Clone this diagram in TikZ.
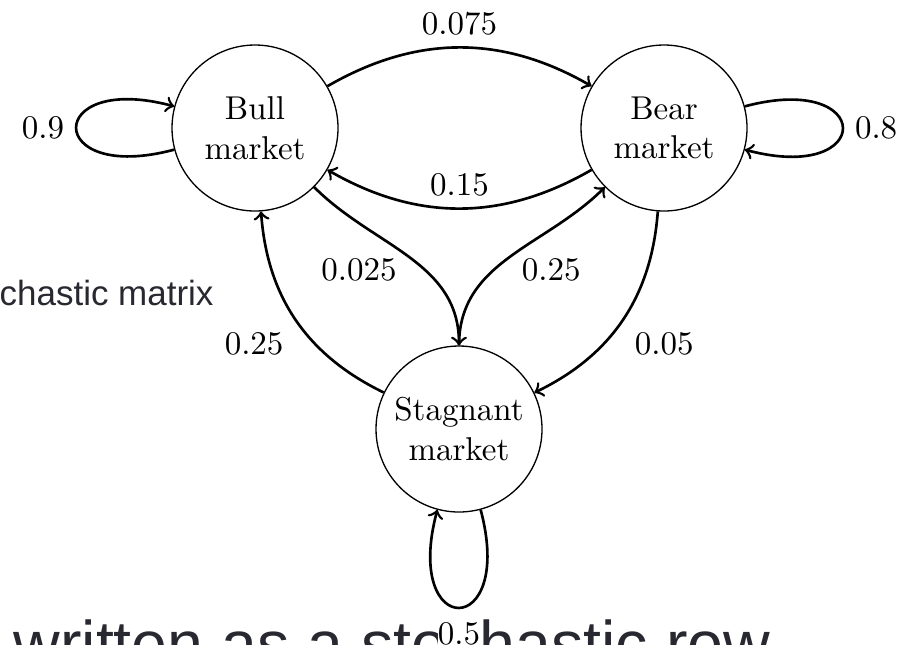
\documentclass[tikz,border=0pt]{standalone}
\usepackage{fontspec}
\newfontfamily\slidefont{Liberation Sans}
\definecolor{slidegray}{RGB}{40,40,48}
\begin{document}
\begin{tikzpicture}[
  x=0.30303pt, y=-0.30303pt,
  state/.style={circle, draw, line width=0.4pt, minimum size=50.3pt,
    inner sep=0pt, align=center},
  trans/.style={->, thick},
  slidetext/.style={text=slidegray, inner sep=0pt, anchor=base west}
]
% page frame
\path[use as bounding box, clip] (0,0) rectangle (901,644);

% slide text behind the chain
\node[slidetext, font=\slidefont\fontsize{10.6pt}{12pt}\selectfont]
  (sidetext) at (-1,305) {chastic matrix};
\node[slidetext, font=\slidefont\fontsize{19.55pt}{22pt}\selectfont]
  (bottomtext) at (13,666) {written as a stochastic row};

% market states
\node[state] (bull) at (255,128) {Bull\\market};
\node[state] (bear) at (664,128) {Bear\\market};
\node[state] (stag) at (459,429) {Stagnant\\market};

% transitions
\draw[trans] (bull) to[bend left=30] node[above] {0.075} (bear);
\draw[trans] (bear) to[bend left=30] node[above] {0.15} (bull);
\draw[trans] (bull) to[out=-45, in=90] node[left, yshift=-4pt] {0.025} (stag);
\draw[trans] (stag) to[out=90, in=225] node[right, yshift=-4pt] {0.25} (bear);
\draw[trans] (stag) to[bend left=30] node[below left] {0.25} (bull);
\draw[trans] (bear) to[bend left=30] node[below right] {0.05} (stag);

% self transitions
\draw[trans] (bull) to[loop left] node[left] {0.9} ();
\draw[trans] (bear) to[loop right] node[right] {0.8} ();
\draw[trans] (stag) to[loop below]
  node[below, fill=white, inner sep=0pt, yshift=-4.2pt] {0.5} ();
\end{tikzpicture}
\end{document}
